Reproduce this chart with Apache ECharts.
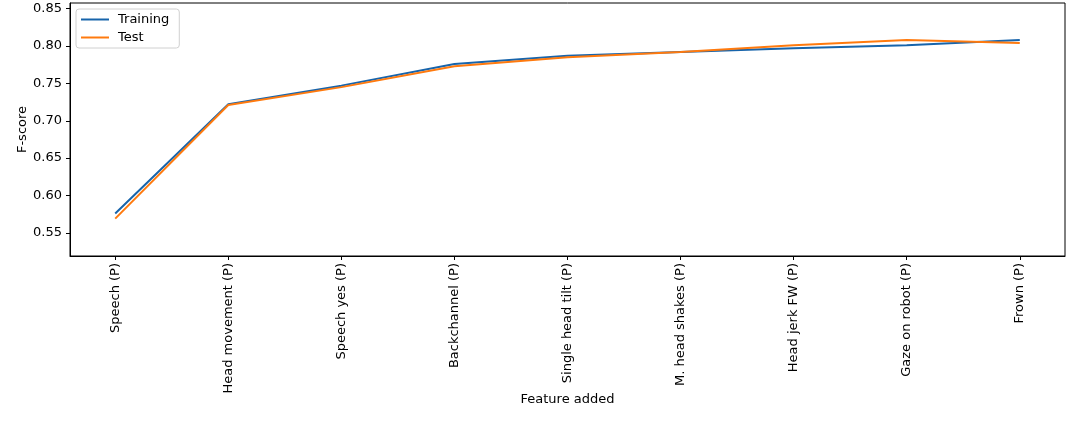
<!DOCTYPE html>
<html>
<head>
<meta charset="utf-8">
<script src="https://cdn.jsdelivr.net/npm/echarts@6/dist/echarts.min.js"></script>
<style>
html, body { margin: 0; padding: 0; background: #fff; }
#chart { width: 1084px; height: 438px; }
</style>
</head>
<body>
<div id="chart"></div>
<script>
// features added one by one
const features = ['Speech (P)', 'Head movement (P)', 'Speech yes (P)', 'Backchannel (P)',
  'Single head tilt (P)', 'M. head shakes (P)', 'Head jerk FW (P)', 'Gaze on robot (P)', 'Frown (P)']
const training = [0.576, 0.722, 0.747, 0.776, 0.787, 0.792, 0.797, 0.801, 0.808]
const test = [0.569, 0.721, 0.745, 0.773, 0.785, 0.792, 0.801, 0.808, 0.804]
const yTicks = [0.55, 0.60, 0.65, 0.70, 0.75, 0.80, 0.85]

const font = 'DejaVu Sans'
const idx = features.map((f, i) => i)

let myChart = echarts.init(document.getElementById('chart'))
myChart.setOption({
  animation: false,
  textStyle: { fontFamily: font },
  grid: {
    left: 70,
    right: 19,
    top: 3,
    bottom: 182,
    show: true,
    borderColor: '#000',
    borderWidth: 1
  },
  legend: {
    left: 76,
    top: 9,
    orient: 'vertical',
    itemWidth: 28,
    itemHeight: 2,
    itemGap: 5,
    padding: [4, 10, 4, 5],
    borderColor: '#d0d0d0',
    borderWidth: 1,
    borderRadius: 3,
    icon: 'rect',
    textStyle: { fontFamily: font, fontSize: 13, color: '#000', padding: [0, 0, 0, 4] },
    data: ['Training', 'Test']
  },
  xAxis: {
    type: 'value',
    min: -0.4,
    max: 8.4,
    name: 'Feature added',
    nameLocation: 'middle',
    nameGap: 137,
    nameMoveOverlap: false,
    nameTextStyle: { fontFamily: font, fontSize: 13, color: '#000' },
    splitLine: { show: false },
    axisLine: { onZero: false, lineStyle: { color: '#000' } },
    axisTick: { length: 4, customValues: idx, lineStyle: { color: '#000' } },
    axisLabel: {
      customValues: idx,
      rotate: 90,
      margin: 7,
      fontFamily: font,
      fontSize: 13,
      color: '#000',
      formatter: v => features[Math.round(v)]
    }
  },
  yAxis: {
    type: 'value',
    min: 0.519,
    max: 0.8576,
    name: 'F-score',
    nameLocation: 'middle',
    nameGap: 41,
    nameMoveOverlap: false,
    nameTextStyle: { fontFamily: font, fontSize: 13, color: '#000' },
    splitLine: { show: false },
    axisLine: { show: true, onZero: false, lineStyle: { color: '#000' } },
    axisTick: { show: true, length: 4, customValues: yTicks, lineStyle: { color: '#000' } },
    axisLabel: {
      customValues: yTicks,
      margin: 8,
      fontFamily: font,
      fontSize: 13,
      color: '#000',
      formatter: v => v.toFixed(2)
    }
  },
  series: [
    {
      name: 'Training',
      type: 'line',
      data: training.map((v, i) => [i, v]),
      showSymbol: false,
      lineStyle: { width: 2, color: '#1764ab' },
      itemStyle: { color: '#1764ab' }
    },
    {
      name: 'Test',
      type: 'line',
      data: test.map((v, i) => [i, v]),
      showSymbol: false,
      lineStyle: { width: 2, color: '#ff7a0e' },
      itemStyle: { color: '#ff7a0e' }
    }
  ]
})
</script>
</body>
</html>
